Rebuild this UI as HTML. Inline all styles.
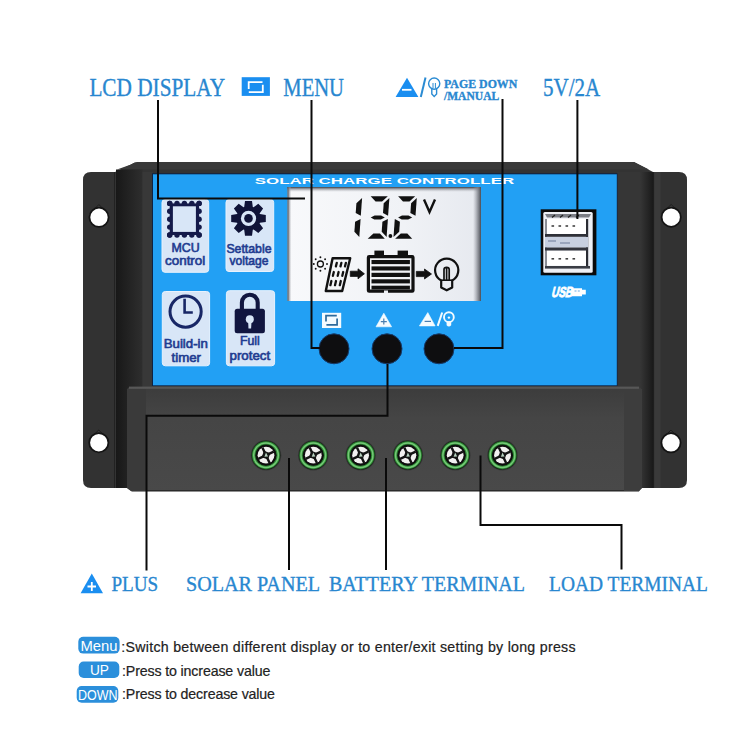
<!DOCTYPE html>
<html><head><meta charset="utf-8">
<style>
html,body{margin:0;padding:0;background:#fff;width:750px;height:750px;overflow:hidden}
svg{display:block;position:absolute;left:0;top:0}
</style></head>
<body>
<svg width="750" height="750" viewBox="0 0 750 750">
<defs>
  <linearGradient id="lcdg" x1="0" y1="0" x2="1" y2="0">
    <stop offset="0" stop-color="#f8f9fb"/>
    <stop offset="0.6" stop-color="#f0f2f6"/>
    <stop offset="1" stop-color="#e6e9ef"/>
  </linearGradient>
  <linearGradient id="lcdtop" x1="0" y1="0" x2="0" y2="1">
    <stop offset="0" stop-color="#3a3d44" stop-opacity="1"/>
    <stop offset="0.35" stop-color="#80838a" stop-opacity="0.8"/>
    <stop offset="1" stop-color="#c0c2c8" stop-opacity="0"/>
  </linearGradient>
  <linearGradient id="lcdleft" x1="0" y1="0" x2="1" y2="0">
    <stop offset="0" stop-color="#3a3d44" stop-opacity="1"/>
    <stop offset="0.35" stop-color="#80838a" stop-opacity="0.8"/>
    <stop offset="1" stop-color="#c0c2c8" stop-opacity="0"/>
  </linearGradient>
  <linearGradient id="lcdright" x1="0" y1="0" x2="1" y2="0">
    <stop offset="0" stop-color="#9a9ca4" stop-opacity="0"/>
    <stop offset="0.6" stop-color="#7d8088" stop-opacity="0.8"/>
    <stop offset="1" stop-color="#4a4d55" stop-opacity="1"/>
  </linearGradient>
  <linearGradient id="flL" x1="0" y1="0" x2="1" y2="0">
    <stop offset="0" stop-color="#323232"/>
    <stop offset="1" stop-color="#1e1e1e"/>
  </linearGradient>
  <linearGradient id="sideL" x1="0" y1="0" x2="1" y2="0">
    <stop offset="0" stop-color="#181818"/>
    <stop offset="1" stop-color="#2e2e2e"/>
  </linearGradient>
  <linearGradient id="sideR" x1="0" y1="0" x2="1" y2="0">
    <stop offset="0" stop-color="#363636"/>
    <stop offset="1" stop-color="#181818"/>
  </linearGradient>
  <linearGradient id="lowg" x1="0" y1="0" x2="0" y2="1">
    <stop offset="0" stop-color="#3c3c3c"/>
    <stop offset="0.3" stop-color="#454545"/>
    <stop offset="1" stop-color="#494949"/>
  </linearGradient>
</defs>
<rect x="0" y="0" width="750" height="750" fill="#fff"/>

<!-- ===== DEVICE BODY ===== -->
<!-- left flange -->
<path d="M91,172 H117 V488 H91 Q83,488 83,480 V180 Q83,172 91,172 Z" fill="#323232"/>
<rect x="114.3" y="172" width="1.8" height="316" fill="#1c1c1c"/>
<!-- right flange -->
<path d="M652,172 H679 Q687,172 687,180 V480 Q687,488 679,488 H652 Z" fill="#323232"/>
<rect x="654.5" y="172" width="6" height="316" fill="#3a3a3a"/>
<!-- main body -->
<path d="M115,172 L131,164.5 Q134,162 138,162 H634 L654,172.5 V488 H115 Z" fill="#333333"/>
<path d="M131,164.5 Q134,162 138,162 H634 L649,169.5 H117 Z" fill="#393939"/>
<!-- side faces -->
<rect x="116" y="169.5" width="26.5" height="318.5" fill="url(#sideL)"/>
<rect x="142.5" y="172" width="10.5" height="316" fill="#383838"/>
<rect x="617" y="172" width="23" height="316" fill="#363636"/>
<rect x="640" y="172" width="13.8" height="316" fill="url(#sideR)"/>
<!-- blue panel -->
<rect x="152" y="173.3" width="465.5" height="212.7" fill="#0d2244"/>
<rect x="153" y="174.3" width="463.8" height="211" fill="#22a0f4"/>
<!-- SOLAR CHARGE CONTROLLER -->
<text x="254.7" y="184.2" font-family="Liberation Sans" font-weight="bold" font-size="8.7" fill="#ffffff" textLength="259.5" lengthAdjust="spacingAndGlyphs">SOLAR CHARGE CONTROLLER</text>

<!-- feature cards -->
<g fill="#d8e6f7" stroke="#e8f2fd" stroke-width="1">
  <rect x="162" y="199.5" width="46.7" height="72.8" rx="3"/>
  <rect x="226" y="199.5" width="47.7" height="72" rx="3"/>
  <rect x="162.3" y="291.5" width="47.3" height="74.3" rx="3"/>
  <rect x="226.4" y="290.7" width="48.2" height="75.1" rx="3"/>
</g>
<g fill="#141a4a">
  <rect x="169.7" y="203.4" width="29.4" height="31.6"/>
<circle cx="169.7" cy="203.4" r="2.7"/>
<circle cx="169.7" cy="235.0" r="2.7"/>
<circle cx="169.7" cy="203.4" r="2.7"/>
<circle cx="199.1" cy="203.4" r="2.7"/>
<circle cx="177.0" cy="203.4" r="2.7"/>
<circle cx="177.0" cy="235.0" r="2.7"/>
<circle cx="169.7" cy="211.3" r="2.7"/>
<circle cx="199.1" cy="211.3" r="2.7"/>
<circle cx="184.4" cy="203.4" r="2.7"/>
<circle cx="184.4" cy="235.0" r="2.7"/>
<circle cx="169.7" cy="219.2" r="2.7"/>
<circle cx="199.1" cy="219.2" r="2.7"/>
<circle cx="191.8" cy="203.4" r="2.7"/>
<circle cx="191.8" cy="235.0" r="2.7"/>
<circle cx="169.7" cy="227.1" r="2.7"/>
<circle cx="199.1" cy="227.1" r="2.7"/>
<circle cx="199.1" cy="203.4" r="2.7"/>
<circle cx="199.1" cy="235.0" r="2.7"/>
<circle cx="169.7" cy="235.0" r="2.7"/>
<circle cx="199.1" cy="235.0" r="2.7"/>
</g>
<rect x="172.9" y="206.3" width="23" height="25.6" fill="#d8e6f7"/>
<g fill="#101438">
  <polygon points="259.9,214.1 265.8,214.9 265.8,221.9 259.9,222.7 259.6,223.4 263.1,228.2 258.3,233.0 253.5,229.5 252.8,229.8 252.0,235.7 245.0,235.7 244.2,229.8 243.5,229.5 238.7,233.0 233.9,228.2 237.4,223.4 237.1,222.7 231.2,221.9 231.2,214.9 237.1,214.1 237.4,213.4 233.9,208.6 238.7,203.8 243.5,207.3 244.2,207.0 245.0,201.1 252.0,201.1 252.8,207.0 253.5,207.3 258.3,203.8 263.1,208.6 259.6,213.4"/>
</g>
<circle cx="248.5" cy="218.4" r="7.6" fill="#d8e6f7"/>
<circle cx="248.5" cy="218.4" r="4.3" fill="#101438"/>
<!-- clock -->
<circle cx="185.6" cy="311.6" r="15.6" fill="none" stroke="#182766" stroke-width="3"/>
<path d="M184.6,298.8 V312.5 H192.8" fill="none" stroke="#182766" stroke-width="2.6"/>
<!-- lock -->
<path d="M241.9,310 V302.6 A7.9,7.9 0 0 1 257.7,302.6 V310" fill="none" stroke="#111640" stroke-width="4.1"/>
<rect x="234.7" y="308.8" width="30.2" height="24.4" rx="2.5" fill="#111640"/>
<circle cx="249.8" cy="319.2" r="4" fill="#d8e6f7"/>
<path d="M248.1,321.5 L248.5,328.6 H251.1 L251.5,321.5 Z" fill="#d8e6f7"/>

<g font-family="Liberation Sans" font-size="12.8" fill="#213b90" stroke="#213b90" stroke-width="0.62">
  <text x="171.5" y="251.5" textLength="28.2" lengthAdjust="spacingAndGlyphs">MCU</text>
  <text x="165" y="265.4" textLength="40.3" lengthAdjust="spacingAndGlyphs">control</text>
  <text x="226.4" y="252.7" textLength="45.1" lengthAdjust="spacingAndGlyphs">Settable</text>
  <text x="229.5" y="265.4" textLength="39" lengthAdjust="spacingAndGlyphs">voltage</text>
  <text x="163.7" y="348" textLength="44.2" lengthAdjust="spacingAndGlyphs">Build-in</text>
  <text x="171.5" y="361.5" textLength="29.5" lengthAdjust="spacingAndGlyphs">timer</text>
  <text x="240" y="345" textLength="19.8" lengthAdjust="spacingAndGlyphs">Full</text>
  <text x="229.5" y="359.7" textLength="40.7" lengthAdjust="spacingAndGlyphs">protect</text>
</g>

<!-- LCD -->
<rect x="287.5" y="187" width="193.5" height="114" fill="url(#lcdg)"/>
<rect x="287.5" y="187" width="193.5" height="5" fill="url(#lcdtop)"/>
<rect x="287.5" y="187" width="4" height="114" fill="url(#lcdleft)"/>
<rect x="473" y="187" width="8" height="114" fill="url(#lcdright)"/>
<g fill="#111">
<polygon points="362.1,197.9 360.8,215.8 355.7,213.1 356.4,203.2"/>
<polygon points="360.6,219.1 359.3,237.0 354.4,231.7 355.1,221.8"/>
<polygon points="370.7,196.2 387.8,196.2 382.1,201.5 375.6,201.5"/>
<polygon points="389.4,197.9 388.1,215.8 383.0,213.1 383.7,203.2"/>
<polygon points="387.9,219.1 386.6,237.0 381.7,231.7 382.4,221.8"/>
<polygon points="373.4,233.4 379.9,233.4 384.8,238.7 367.7,238.7"/>
<polygon points="370.7,217.4 374.6,215.4 381.1,215.4 384.8,217.4 380.8,219.4 374.3,219.4"/>
<polygon points="398.1,196.2 415.2,196.2 409.5,201.5 403.0,201.5"/>
<polygon points="416.8,197.9 415.5,215.8 410.4,213.1 411.1,203.2"/>
<polygon points="398.1,217.4 402.0,215.4 408.5,215.4 412.2,217.4 408.2,219.4 401.7,219.4"/>
<polygon points="394.8,219.1 399.9,221.8 399.2,231.7 393.5,237.0"/>
<polygon points="400.8,233.4 407.3,233.4 412.2,238.7 395.1,238.7"/>
</g>
<circle cx="390.4" cy="236" r="1.9" fill="#111"/>
<path d="M424,199.5 L429.5,212 L435,199.5" fill="none" stroke="#111" stroke-width="2.4"/>

<!-- LCD icons -->
<circle cx="320.4" cy="264" r="3" fill="none" stroke="#111" stroke-width="1.3"/>
<g fill="#111">
  <circle cx="320.4" cy="257.2" r="0.95"/><circle cx="320.4" cy="270.8" r="0.95"/>
  <circle cx="313.8" cy="264" r="0.95"/><circle cx="327" cy="264" r="0.95"/>
  <circle cx="315.7" cy="259.3" r="0.95"/><circle cx="325.1" cy="259.3" r="0.95"/>
  <circle cx="315.7" cy="268.7" r="0.95"/><circle cx="325.1" cy="268.7" r="0.95"/>
</g>
<path d="M332.6,258.2 H350.2 L342.2,291 H325.8 Z" fill="none" stroke="#111" stroke-width="2.4" stroke-linejoin="round"/>
<g stroke="#111" stroke-width="2.3" stroke-linecap="round">
  <path d="M336.8,262.8 l-0.9,3.6 M341.4,262.8 l-0.9,3.6 M345.9,262.8 l-0.9,3.6"/>
  <path d="M333.8,272 l-0.9,3.8 M338.6,272 l-0.9,3.8 M343.2,272 l-0.9,3.8"/>
  <path d="M331.4,281 l-1,4.2 M336,281 l-1,4.2 M340.8,281 l-1,4.2"/>
</g>
<!-- arrows -->
<path d="M350.3,271.2 H358 V268.8 L364.4,273.8 L358,278.8 V276.4 H350.3 Z" fill="#111" stroke="#111" stroke-width="0.8" stroke-linejoin="round"/>
<path d="M416.3,271.4 H424.5 V269 L431.5,274 L424.5,279 V276.6 H416.3 Z" fill="#111" stroke="#111" stroke-width="0.8" stroke-linejoin="round"/>
<!-- battery -->
<rect x="374.4" y="250.6" width="9.6" height="6" fill="#111"/>
<rect x="397.6" y="250.6" width="10.4" height="6" fill="#111"/>
<rect x="368.4" y="256.6" width="44.6" height="34.6" fill="none" stroke="#111" stroke-width="3.2" rx="0.8"/>
<g fill="#111">
  <rect x="371.5" y="260" width="38.4" height="4.1"/>
  <rect x="371.5" y="266.4" width="38.4" height="4.1"/>
  <rect x="371.5" y="272.8" width="38.4" height="4.2"/>
  <rect x="371.5" y="279.3" width="38.4" height="4.1"/>
  <rect x="371.5" y="285.7" width="38.4" height="3.8"/>
</g>
<rect x="384" y="290.5" width="4" height="2.5" fill="#eceef3"/>
<!-- bulb -->
<path d="M441.2,280.5 A11.6,11.6 0 1 1 452.2,280.5 V287.6 L446.7,290.3 L441.2,287.6 Z" fill="none" stroke="#111" stroke-width="2.2" stroke-linejoin="round"/>
<path d="M441.2,280.2 H452.2" stroke="#111" stroke-width="1.6"/>
<path d="M444,280 V269.6 Q444,267.4 446.6,267.4 Q449.2,267.4 449.2,269.6 V280 M446.6,268 V280" fill="none" stroke="#111" stroke-width="1.7"/>

<!-- button icons -->
<rect x="322" y="312.8" width="19.2" height="15.2" fill="#f4fbff"/>
<path d="M326,321.6 V315.7 H336.8 M337.1,318.6 V324.8 H326.4" fill="none" stroke="#2c6a9c" stroke-width="1.7"/>
<path d="M383.8,313.2 L391.6,326.8 H376 Z" fill="#f4fbff" stroke="#f4fbff" stroke-width="0.6" stroke-linejoin="round"/>
<path d="M383.8,318.6 V324.6 M380.8,321.6 H386.8" stroke="#4a7fb0" stroke-width="1.2"/>
<path d="M427.8,312.6 L435.1,325.9 H419.4 Z" fill="#f4fbff" stroke="#f4fbff" stroke-width="0.6" stroke-linejoin="round"/>
<path d="M424.6,321.4 H431" stroke="#4a7fb0" stroke-width="1.2"/>
<path d="M442.2,312.5 L437.7,325.9" stroke="#f4fbff" stroke-width="2"/>
<circle cx="448.9" cy="317.2" r="4.9" fill="none" stroke="#f4fbff" stroke-width="1.9"/>
<path d="M446.6,321.2 H451.2 V325.2 Q448.9,327.6 446.6,325.2 Z" fill="#f4fbff"/>
<circle cx="448.9" cy="317.6" r="1.2" fill="#f4fbff"/>
<!-- buttons -->
<g fill="#0e0e10" stroke="#163a6a" stroke-width="1">
  <circle cx="334" cy="348.8" r="15"/>
  <circle cx="387" cy="348.8" r="15"/>
  <circle cx="439" cy="348.8" r="15"/>
</g>

<!-- USB -->
<rect x="540.7" y="209.3" width="55.7" height="66" fill="#0a0a0a"/>
<rect x="543.3" y="212" width="49.4" height="60.7" rx="1.5" fill="#eef0f5"/>
<path d="M545,214 H591 L589,217.5 H547 Z" fill="#7a7d85"/>
<path d="M552,217.5 l3,-2.5 M560,217.5 l3,-2.5 M568,217.5 l3,-2.5 M576,217.5 l3,-2.5" stroke="#222" stroke-width="1.2"/>
<rect x="547" y="219" width="40" height="15" fill="#ffffff"/>
<rect x="586" y="219" width="2.2" height="47" fill="#2a2c33"/>
<rect x="545" y="219" width="2" height="47" fill="#8a8d95"/>

<rect x="545" y="234" width="43" height="2.8" fill="#2e3038"/>
<rect x="545" y="237" width="43" height="10.5" fill="#c8d0e0"/>
<path d="M548,241 h8 M560,243 h10" stroke="#8a96b0" stroke-width="1.5"/>
<rect x="545" y="247.5" width="43" height="3" fill="#33353d"/>
<rect x="547" y="251" width="39" height="14.5" fill="#ffffff"/>
<rect x="545" y="266" width="45" height="2.6" fill="#3a3d45"/>
<g fill="#444">
  <rect x="551.5" y="225.2" width="2.6" height="1.6"/><rect x="558.5" y="225.2" width="2.6" height="1.6"/><rect x="565.5" y="225.2" width="2.6" height="1.6"/><rect x="572.5" y="225.2" width="2.6" height="1.6"/>
  <rect x="551.5" y="258" width="2.6" height="1.6"/><rect x="558.5" y="258" width="2.6" height="1.6"/><rect x="565.5" y="258" width="2.6" height="1.6"/><rect x="572.5" y="258" width="2.6" height="1.6"/>
</g>
<g transform="translate(548.5,297.4) skewX(-14)">
<text x="2.5" y="0" font-family="Liberation Sans" font-weight="bold" font-size="14.5" fill="#ffffff" stroke="#ffffff" stroke-width="0.9" textLength="21" lengthAdjust="spacingAndGlyphs">USB</text>
</g>
<path d="M571.5,288.2 h10.5 v8 h-10.5 z M582,289.8 h3.8 v4.8 h-3.8z" fill="#fff"/>
<path d="M574.5,290.2 h2 v1.6 h-2z M577.8,290.2 h2 v1.6 h-2z" fill="#9cc8ee"/>
<!-- lower body -->
<path d="M131,387 H637 Q642,387 642,392 V488 L639,491 H131 L127,488 V391 Q127,387 131,387 Z" fill="url(#lowg)"/>
<path d="M131,490.2 H639.5 L639,491.6 H131.5 Z" fill="#222"/>
<rect x="129" y="386.6" width="510" height="2.2" fill="#575757"/>
<path d="M127,389 H146 V491 H131 L127,488 Z" fill="#3a3a3a"/>
<path d="M624,389 H642 V488 L639,491 H624 Z" fill="#3d3d3d"/>
<!-- holes -->
<g fill="#3c3c3c" stroke="#1a1a1a" stroke-width="1">
  <path d="M92.5,211 L98.9,204.6 L105.3,211 Z"/>
  <path d="M92.3,436.4 L98.7,430 L105.1,436.4 Z"/>
  <path d="M664.7,210.9 L671.1,204.5 L677.5,210.9 Z"/>
  <path d="M664.5,436.5 L670.9,430.1 L677.3,436.5 Z"/>
</g>
<g fill="#ffffff" stroke="#141414" stroke-width="1.8">
  <circle cx="99" cy="217.3" r="9.6"/>
  <circle cx="98.8" cy="442.7" r="9.6"/>
  <circle cx="671.2" cy="217.2" r="9.6"/>
  <circle cx="671" cy="442.8" r="9.6"/>
</g>

<!-- terminals -->
<g id="terms">
<g transform="translate(266,455.2)"><circle r="15.3" fill="#2a2a2a" opacity="0.6"/><circle r="14.4" fill="#122012"/><circle r="12.3" fill="none" stroke="#2e8a34" stroke-width="3.4"/><circle r="12.3" fill="none" stroke="#76c878" stroke-width="1.5"/><circle r="10.3" fill="#0e0e0e"/><circle r="8.4" fill="#f2f0f0"/><g transform="rotate(-25)"><path d="M-1.2,-8.6 h2.4 v17.2 h-2.4z M-8.6,-1.2 v2.4 h17.2 v-2.4z" fill="#141414"/><path d="M0,-4.8 L4.8,0 L0,4.8 L-4.8,0 Z" fill="#141414"/></g><path d="M0,-2.6 L2,1.2 L-1.6,1.6 Z" fill="#b8d2c0"/></g>
<g transform="translate(313.3,455.2)"><circle r="15.3" fill="#2a2a2a" opacity="0.6"/><circle r="14.4" fill="#122012"/><circle r="12.3" fill="none" stroke="#2e8a34" stroke-width="3.4"/><circle r="12.3" fill="none" stroke="#76c878" stroke-width="1.5"/><circle r="10.3" fill="#0e0e0e"/><circle r="8.4" fill="#f2f0f0"/><g transform="rotate(-25)"><path d="M-1.2,-8.6 h2.4 v17.2 h-2.4z M-8.6,-1.2 v2.4 h17.2 v-2.4z" fill="#141414"/><path d="M0,-4.8 L4.8,0 L0,4.8 L-4.8,0 Z" fill="#141414"/></g><path d="M0,-2.6 L2,1.2 L-1.6,1.6 Z" fill="#b8d2c0"/></g>
<g transform="translate(360.6,455.2)"><circle r="15.3" fill="#2a2a2a" opacity="0.6"/><circle r="14.4" fill="#122012"/><circle r="12.3" fill="none" stroke="#2e8a34" stroke-width="3.4"/><circle r="12.3" fill="none" stroke="#76c878" stroke-width="1.5"/><circle r="10.3" fill="#0e0e0e"/><circle r="8.4" fill="#f2f0f0"/><g transform="rotate(-25)"><path d="M-1.2,-8.6 h2.4 v17.2 h-2.4z M-8.6,-1.2 v2.4 h17.2 v-2.4z" fill="#141414"/><path d="M0,-4.8 L4.8,0 L0,4.8 L-4.8,0 Z" fill="#141414"/></g><path d="M0,-2.6 L2,1.2 L-1.6,1.6 Z" fill="#b8d2c0"/></g>
<g transform="translate(407.9,455.2)"><circle r="15.3" fill="#2a2a2a" opacity="0.6"/><circle r="14.4" fill="#122012"/><circle r="12.3" fill="none" stroke="#2e8a34" stroke-width="3.4"/><circle r="12.3" fill="none" stroke="#76c878" stroke-width="1.5"/><circle r="10.3" fill="#0e0e0e"/><circle r="8.4" fill="#f2f0f0"/><g transform="rotate(-25)"><path d="M-1.2,-8.6 h2.4 v17.2 h-2.4z M-8.6,-1.2 v2.4 h17.2 v-2.4z" fill="#141414"/><path d="M0,-4.8 L4.8,0 L0,4.8 L-4.8,0 Z" fill="#141414"/></g><path d="M0,-2.6 L2,1.2 L-1.6,1.6 Z" fill="#b8d2c0"/></g>
<g transform="translate(455.2,455.2)"><circle r="15.3" fill="#2a2a2a" opacity="0.6"/><circle r="14.4" fill="#122012"/><circle r="12.3" fill="none" stroke="#2e8a34" stroke-width="3.4"/><circle r="12.3" fill="none" stroke="#76c878" stroke-width="1.5"/><circle r="10.3" fill="#0e0e0e"/><circle r="8.4" fill="#f2f0f0"/><g transform="rotate(-25)"><path d="M-1.2,-8.6 h2.4 v17.2 h-2.4z M-8.6,-1.2 v2.4 h17.2 v-2.4z" fill="#141414"/><path d="M0,-4.8 L4.8,0 L0,4.8 L-4.8,0 Z" fill="#141414"/></g><path d="M0,-2.6 L2,1.2 L-1.6,1.6 Z" fill="#b8d2c0"/></g>
<g transform="translate(502.5,455.2)"><circle r="15.3" fill="#2a2a2a" opacity="0.6"/><circle r="14.4" fill="#122012"/><circle r="12.3" fill="none" stroke="#2e8a34" stroke-width="3.4"/><circle r="12.3" fill="none" stroke="#76c878" stroke-width="1.5"/><circle r="10.3" fill="#0e0e0e"/><circle r="8.4" fill="#f2f0f0"/><g transform="rotate(-25)"><path d="M-1.2,-8.6 h2.4 v17.2 h-2.4z M-8.6,-1.2 v2.4 h17.2 v-2.4z" fill="#141414"/><path d="M0,-4.8 L4.8,0 L0,4.8 L-4.8,0 Z" fill="#141414"/></g><path d="M0,-2.6 L2,1.2 L-1.6,1.6 Z" fill="#b8d2c0"/></g>
</g>

<!-- ===== CALLOUT LINES ===== -->
<g fill="none" stroke="#0a0a0a" stroke-width="2">
  <path d="M158,100 V198.5 H305"/>
  <path d="M311.5,100 V348 H320"/>
  <path d="M502.5,99 V348 H454"/>
  <path d="M577.4,100 V219"/>
  <path d="M387.5,364 V415.8 H146.5 V570.5"/>
  <path d="M289,458 V570"/>
  <path d="M386,458 V570"/>
  <path d="M480.5,455.5 V525 H621.5 V569.6"/>
</g>

<!-- ===== LABELS ===== -->
<g font-family="Liberation Serif" fill="#2887d0" stroke="#2887d0" stroke-width="0.35">
  <text x="89.4" y="96" font-size="24.8" textLength="135.6" lengthAdjust="spacingAndGlyphs">LCD DISPLAY</text>
  <text x="283.3" y="95.5" font-size="24.8" textLength="60.7" lengthAdjust="spacingAndGlyphs">MENU</text>
  <text x="543" y="95.6" font-size="24.8" textLength="57.2" lengthAdjust="spacingAndGlyphs">5V/2A</text>
  <text x="111.5" y="591.4" font-size="22" textLength="46.7" lengthAdjust="spacingAndGlyphs">PLUS</text>
  <text x="186" y="590.8" font-size="22" textLength="134" lengthAdjust="spacingAndGlyphs">SOLAR PANEL</text>
  <text x="329" y="590.8" font-size="22" textLength="196" lengthAdjust="spacingAndGlyphs">BATTERY TERMINAL</text>
  <text x="549" y="591.2" font-size="22" textLength="159" lengthAdjust="spacingAndGlyphs">LOAD TERMINAL</text>
  <text x="444" y="88.3" font-size="12" font-weight="bold" textLength="73.3" lengthAdjust="spacingAndGlyphs">PAGE DOWN</text>
  <text x="444" y="99.5" font-size="12" font-weight="bold" textLength="55.2" lengthAdjust="spacingAndGlyphs">/MANUAL</text>
</g>
<!-- menu icon top -->
<rect x="241.7" y="77.2" width="28.2" height="18.7" fill="#1a8ef0"/>
<path d="M248.7,89 V82.1 H262.5 M262.8,84.8 V92.1 H248.8" fill="none" stroke="#fff" stroke-width="1.8"/>
<!-- page down icon top -->
<path d="M407,77.7 L418.4,97.1 H395.6 Z" fill="#1a8ef0"/>
<path d="M402,89.8 H411.5" stroke="#fff" stroke-width="1.8"/>
<path d="M425.5,77.5 L420.8,97" stroke="#2a8bd3" stroke-width="2"/>
<circle cx="434.2" cy="83.6" r="5.6" fill="none" stroke="#2a8bd3" stroke-width="1.4"/>
<path d="M431.8,88.5 V94 L434.2,96.5 L436.6,94 V88.5" fill="none" stroke="#2a8bd3" stroke-width="1.4"/>
<path d="M433,88 V83 M435.4,88 V83" stroke="#2a8bd3" stroke-width="1"/>
<!-- plus icon bottom -->
<path d="M91.8,573.6 L103,593.3 H80.6 Z" fill="#1a8ef0"/>
<path d="M91.8,582 V591 M87.5,586.5 H96" stroke="#fff" stroke-width="1.8"/>

<!-- ===== LEGEND ===== -->
<g fill="#2b8fdb">
  <rect x="78.3" y="636.7" width="41.3" height="16.9" rx="5"/>
  <rect x="78.7" y="661.6" width="40.6" height="16.4" rx="5"/>
  <rect x="76.7" y="686" width="41.6" height="16.7" rx="5"/>
</g>
<g font-family="Liberation Sans" fill="#ffffff" font-size="14">
  <text x="80.5" y="650.5" textLength="37" lengthAdjust="spacingAndGlyphs">Menu</text>
  <text x="90" y="675" textLength="19" lengthAdjust="spacingAndGlyphs">UP</text>
  <text x="78" y="699.5" textLength="39.5" lengthAdjust="spacingAndGlyphs">DOWN</text>
</g>
<g font-family="Liberation Sans" fill="#222" stroke="#222" stroke-width="0.2" font-size="14.2" transform="translate(0,0.4)">
  <text x="121.3" y="651.2" textLength="454.2" lengthAdjust="spacing">:Switch between different display or to enter/exit setting by long press</text>
  <text x="122" y="675.4" textLength="148.3" lengthAdjust="spacing">:Press to increase value</text>
  <text x="122" y="698.2" textLength="153" lengthAdjust="spacing">:Press to decrease value</text>
</g>
</svg>
</body></html>
